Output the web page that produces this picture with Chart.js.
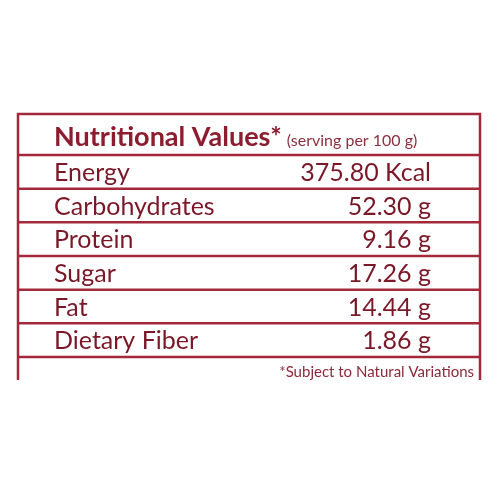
<!DOCTYPE html><html><head><script src="https://cdn.jsdelivr.net/npm/chart.js"></script>
<style>body{margin:0;background:#fff}</style></head><body>
<div style="width:500px;height:500px"><canvas id="c"></canvas></div>
<script>
const nutrients=["Energy","Carbohydrates","Protein","Sugar","Fat","Dietary Fiber"];
const values=[375.80,52.30,9.16,17.26,14.44,1.86];
const units=["Kcal","g","g","g","g","g"];
const title="Nutritional Values*";
const subtitle="(serving per 100 g)";
const footnote="*Subject to Natural Variations";
const RED="#a3283a", TXT="#8c1c2e";
const tablePlugin={id:'table',afterDraw(ch){
 const ctx=ch.ctx,a=ch.chartArea,y=ch.scales.y;
 const half=(y.getPixelForValue(1)-y.getPixelForValue(0))/2;
 ctx.save();ctx.strokeStyle=RED;ctx.lineWidth=2.5;
 const top=114;
 ctx.beginPath();
 ctx.moveTo(a.left,380);ctx.lineTo(a.left,top);ctx.lineTo(a.right,top);ctx.lineTo(a.right,380);
 for(let i=0;i<=nutrients.length;i++){const p=y.getPixelForValue(i)-half;ctx.moveTo(a.left,p);ctx.lineTo(a.right,p);}
 ctx.stroke();
 ctx.fillStyle=TXT;ctx.textBaseline='alphabetic';
 ctx.font="bold 27px Lato";ctx.textAlign='left';ctx.fillText(title,54,146);
 const w=ctx.measureText(title).width;
 ctx.font="16px Lato";ctx.fillStyle="#8c3040";ctx.fillText(subtitle,54+w+5,146);
 ctx.fillStyle="#7a1828";
 nutrients.forEach((n,i)=>{const p=y.getPixelForValue(i)+9;
  ctx.font="25px Lato";ctx.textAlign='left';ctx.fillText(n,54,p);
  ctx.textAlign='right';ctx.fillText(values[i].toFixed(2)+" "+units[i],431,p);});
 ctx.font="15px Lato";ctx.textAlign='right';ctx.fillStyle="#8c2a3a";ctx.fillText(footnote,474,377);
 ctx.restore();}};
new Chart(document.getElementById('c'),{type:'bar',
 data:{labels:nutrients,datasets:[{data:values,backgroundColor:'rgba(0,0,0,0)'}]},
 options:{indexAxis:'y',responsive:true,maintainAspectRatio:false,animation:false,
  layout:{padding:{top:155,bottom:143,left:18,right:20}},
  plugins:{legend:{display:false},tooltip:{enabled:false}},
  scales:{y:{display:false},x:{display:false}}},
 plugins:[tablePlugin]});
</script></body></html>
